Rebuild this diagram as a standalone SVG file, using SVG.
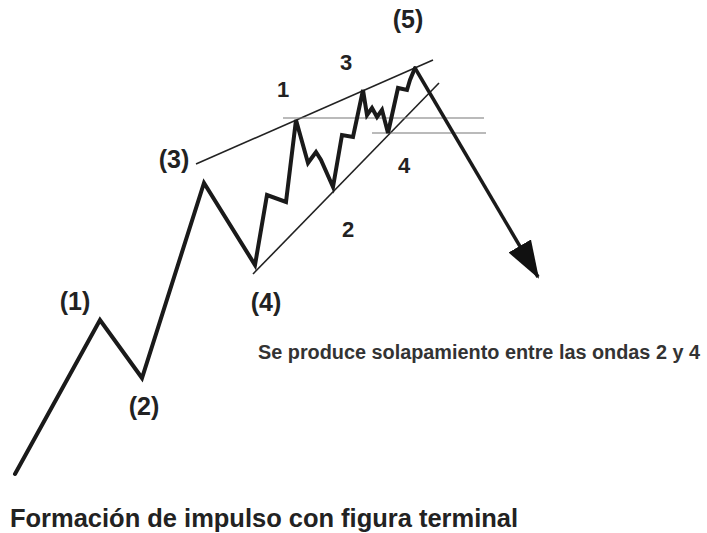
<svg xmlns="http://www.w3.org/2000/svg" width="707" height="533" viewBox="0 0 707 533">
<style>
.wave{fill:none;stroke:#1a1a1a;stroke-width:4;stroke-linejoin:miter;stroke-linecap:round}
.trend{fill:none;stroke:#222;stroke-width:1.6}
.hl{fill:none;stroke:#777;stroke-width:1.2}
.lbl{font-family:"Liberation Sans",Arial,sans-serif;font-weight:bold;font-size:25px;fill:#222;text-anchor:middle}
.dig{font-family:"Liberation Sans",Arial,sans-serif;font-weight:bold;font-size:22px;fill:#222;text-anchor:middle}
.note{font-family:"Liberation Sans",Arial,sans-serif;font-weight:bold;font-size:19.5px;fill:#333}
.title{font-family:"Liberation Sans",Arial,sans-serif;font-weight:bold;font-size:25.5px;fill:#222}
</style>
<defs>
<marker id="ah" markerUnits="userSpaceOnUse" markerWidth="40" markerHeight="40" refX="36" refY="15" orient="auto" viewBox="0 0 40 30">
<path d="M0,2 L38,15 L0,28 Z" fill="#111"/>
</marker>
</defs>
<rect width="707" height="533" fill="#fff"/>
<g id="connectors">
<line id="trend-upper" class="trend" x1="196" y1="164" x2="433" y2="60"/>
<line id="trend-lower" class="trend" x1="253" y1="274" x2="439" y2="83"/>
<line id="h-line-1" class="hl" x1="283" y1="118" x2="484" y2="118"/>
<line id="h-line-2" class="hl" x1="372" y1="133" x2="486" y2="133"/>
<polyline id="main-wave" class="wave" points="15,474 100,320 142,378 204,183 255,265 267,195 286,202 296,120 308,163 316,152 321,160 333,187 342,135 353,137 363,90 367,115 372,108 377,117 382,110 388,133 398,88 407,90 410,80 415,68"/>
<line id="drop-arrow" x1="415" y1="68" x2="538" y2="277" stroke="#1a1a1a" stroke-width="3.5" marker-end="url(#ah)"/>
</g>
<g id="label-5"><text class="lbl" x="408" y="28">(5)</text></g>
<g id="label-w3"><text class="dig" x="346" y="70">3</text></g>
<g id="label-w1"><text class="dig" x="283" y="97">1</text></g>
<g id="label-3"><text class="lbl" x="174" y="168">(3)</text></g>
<g id="label-w4"><text class="dig" x="404" y="173">4</text></g>
<g id="label-w2"><text class="dig" x="348" y="237">2</text></g>
<g id="label-4"><text class="lbl" x="266" y="311">(4)</text></g>
<g id="label-1"><text class="lbl" x="75" y="310">(1)</text></g>
<g id="label-2"><text class="lbl" x="144" y="415">(2)</text></g>
<g id="note"><text class="note" x="258" y="359" textLength="442" lengthAdjust="spacingAndGlyphs">Se produce solapamiento entre las ondas 2 y 4</text></g>
<g id="title"><text class="title" x="10" y="527" textLength="508" lengthAdjust="spacingAndGlyphs">Formación de impulso con figura terminal</text></g>
</svg>
